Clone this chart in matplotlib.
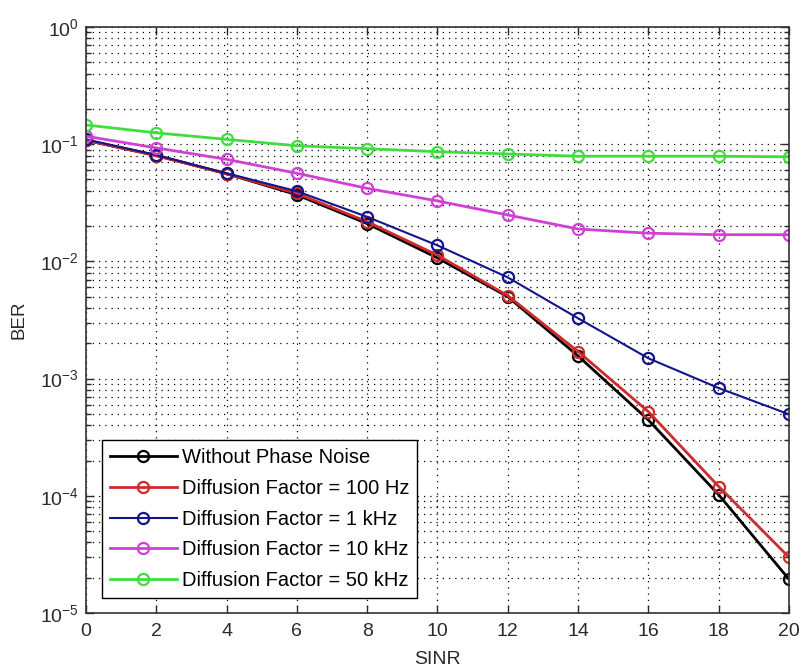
import matplotlib
matplotlib.use("Agg")
import matplotlib.pyplot as plt
from matplotlib.ticker import LogLocator, FixedLocator, NullFormatter

plt.rcParams['font.family'] = ['Liberation Sans', 'DejaVu Sans']

sinr = [0, 2, 4, 6, 8, 10, 12, 14, 16, 18, 20]

ber_no_pn = [0.108, 0.080, 0.056, 0.037, 0.021, 0.0107, 0.0050, 0.00156, 0.000443, 0.000102, 0.0000194]
ber_100hz = [0.108, 0.080, 0.056, 0.038, 0.0218, 0.0113, 0.0051, 0.00170, 0.000522, 0.000120, 0.0000299]
ber_1khz = [0.110, 0.081, 0.0565, 0.0397, 0.0240, 0.0137, 0.0073, 0.00327, 0.00149, 0.00083, 0.000496]
ber_10khz = [0.117, 0.093, 0.0743, 0.0565, 0.0420, 0.0328, 0.0249, 0.0189, 0.0174, 0.0169, 0.0169]
ber_50khz = [0.146, 0.125, 0.110, 0.097, 0.0916, 0.0863, 0.0825, 0.0790, 0.0790, 0.0790, 0.0780]

labels = [
    "Without Phase Noise",
    "Diffusion Factor = 100 Hz",
    "Diffusion Factor = 1 kHz",
    "Diffusion Factor = 10 kHz",
    "Diffusion Factor = 50 kHz",
]
colors = ["#000000", "#d02a2a", "#14148c", "#d040d4", "#40dc40"]
widths = [2.0, 2.0, 1.5, 2.0, 2.0]
series = [ber_no_pn, ber_100hz, ber_1khz, ber_10khz, ber_50khz]

fig = plt.figure(figsize=(8.02, 6.72), dpi=100)
ax = fig.add_axes([0.1072, 0.0878, 0.8766, 0.872])

for y, lab, c, lw in zip(series, labels, colors, widths):
    ax.semilogy(sinr, y, color=c, lw=lw, marker='o', markersize=8,
                markerfacecolor='none', markeredgecolor=c, markeredgewidth=1.6,
                label=lab)

ax.set_xlim(0, 20)
ax.set_ylim(1e-5, 1e0)
ax.xaxis.set_major_locator(FixedLocator(range(0, 21, 2)))
ax.yaxis.set_major_locator(LogLocator(base=10, numticks=10))
ax.yaxis.set_minor_locator(LogLocator(base=10, subs=range(2, 10), numticks=20))
ax.yaxis.set_minor_formatter(NullFormatter())

dot = (0, (1, 4))
ax.grid(True, which='major', axis='both', color='black', linestyle=dot, linewidth=0.9)
ax.grid(True, which='minor', axis='y', color='black', linestyle=dot, linewidth=0.9)
ax.set_axisbelow(True)

ax.tick_params(which='both', direction='in', top=True, right=True,
               labelsize=14, colors='#2a2a2a')
ax.tick_params(axis='x', pad=7)
ax.tick_params(axis='y', pad=5)
ax.tick_params(which='major', length=6, width=1)
ax.tick_params(which='minor', length=3.5, width=1)
for s in ax.spines.values():
    s.set_linewidth(1.2)
    s.set_color('#333333')

ax.set_xlabel("SINR", fontsize=14, color='#2a2a2a', labelpad=8)
ax.set_ylabel("BER", fontsize=13.5, color='#2a2a2a', labelpad=9)

leg = ax.legend(loc='lower left', bbox_to_anchor=(0.0228, 0.0256), fontsize=14.5,
                handlelength=3.3, handletextpad=0.25, labelspacing=0.58,
                borderpad=0.4, borderaxespad=0, fancybox=False,
                framealpha=1, edgecolor='black')
leg.get_frame().set_linewidth(1.0)

fig.savefig("out.png", dpi=100)
